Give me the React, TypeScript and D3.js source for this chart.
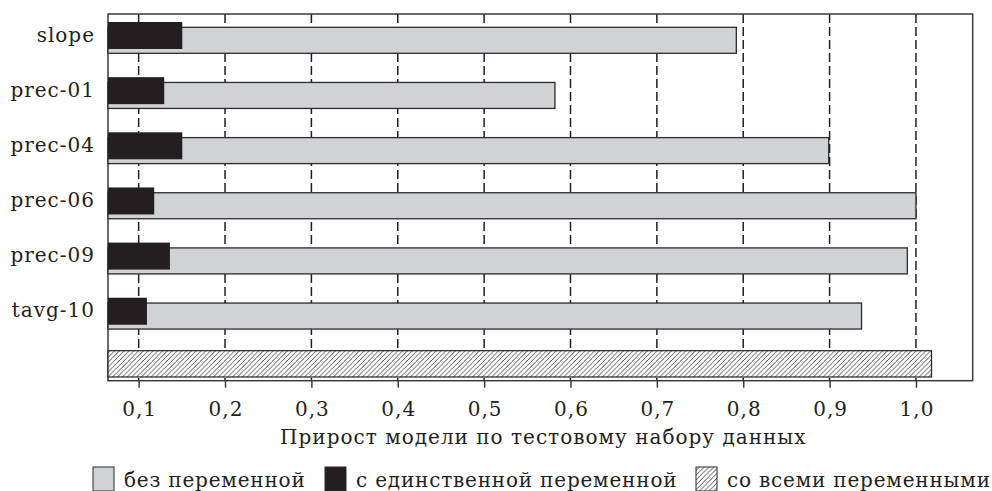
import React, { useEffect, useRef } from 'react'
import * as d3 from 'd3'

// variable names, top to bottom
const variables = ['slope', 'prec-01', 'prec-04', 'prec-06', 'prec-09', 'tavg-10']
// gain without the variable (grey bars)
const withoutVar = [0.792, 0.582, 0.899, 1.0, 0.99, 0.937]
// gain with the single variable only (black bars)
const singleVar = [0.1505, 0.1296, 0.1505, 0.118, 0.1362, 0.1096]
// gain with all variables (hatched bar)
const allVars = 1.018

const xTicks = [0.1, 0.2, 0.3, 0.4, 0.5, 0.6, 0.7, 0.8, 0.9, 1.0]
const xTitle = 'Прирост модели по тестовому набору данных'
const legendLabels = ['без переменной', 'с единственной переменной', 'со всеми переменными']

const FONT = '"DejaVu Serif", serif'

export default function App() {
  const ref = useRef<SVGSVGElement>(null)

  useEffect(() => {
    const svg = d3.select(ref.current)
    svg.selectAll('*').remove()

    const left = 108, right = 972.7, top = 14, bottom = 380.7

    const x = d3.scaleLinear().domain([0.0645, 1.0657]).range([left, right])
    const rows = [...variables, 'all']
    const y = d3.scaleBand().domain(rows).range([10, 10 + rows.length * 55.15]).padding(0)

    // hatch pattern
    const defs = svg.append('defs')
    const pat = defs.append('pattern')
      .attr('id', 'hatch')
      .attr('patternUnits', 'userSpaceOnUse')
      .attr('width', 4.8).attr('height', 4.8)
    pat.append('rect').attr('width', 4.8).attr('height', 4.8).attr('fill', '#fff')
    pat.append('path')
      .attr('d', 'M0,4.8 L4.8,0 M-1.2,1.2 L1.2,-1.2 M3.6,6 L6,3.6')
      .attr('stroke', '#231f20').attr('stroke-width', 0.8)

    // dashed grid
    svg.append('g')
      .selectAll('line')
      .data(xTicks)
      .enter().append('line')
        .attr('x1', d => x(d)).attr('x2', d => x(d))
        .attr('y1', top).attr('y2', bottom)
        .attr('stroke', '#231f20')
        .attr('stroke-width', 1.5)
        .attr('stroke-dasharray', '9,4')

    // frame
    svg.append('rect')
      .attr('x', left).attr('y', top)
      .attr('width', right - left).attr('height', bottom - top)
      .attr('fill', 'none').attr('stroke', '#3a3a3a').attr('stroke-width', 1.5)

    const x0 = x.domain()[0]

    // grey bars
    svg.append('g')
      .selectAll('rect')
      .data(variables)
      .enter().append('rect')
        .attr('x', x(x0))
        .attr('y', d => (y(d) as number) + 17.3)
        .attr('width', (d, i) => x(withoutVar[i]) - x(x0))
        .attr('height', 26)
        .attr('fill', '#d1d2d4')
        .attr('stroke', '#2b2b2b')
        .attr('stroke-width', 1.3)

    // black bars
    svg.append('g')
      .selectAll('rect')
      .data(variables)
      .enter().append('rect')
        .attr('x', x(x0))
        .attr('y', d => (y(d) as number) + 12)
        .attr('width', (d, i) => x(singleVar[i]) - x(x0))
        .attr('height', 27)
        .attr('fill', '#231f20')

    // hatched bar
    svg.append('rect')
      .attr('x', x(x0))
      .attr('y', (y('all') as number) + 9.8)
      .attr('width', x(allVars) - x(x0))
      .attr('height', 26.3)
      .attr('fill', 'url(#hatch)')
      .attr('stroke', '#231f20')
      .attr('stroke-width', 1.2)

    const textStyle = (sel: any) => sel
      .style('font-family', FONT)
      .style('font-size', '20px')
      .style('letter-spacing', '1px')
      .attr('fill', '#231f20')

    // row labels
    svg.append('g')
      .selectAll('text')
      .data(variables)
      .enter().append('text')
        .attr('x', 95)
        .attr('y', d => (y(d) as number) + 31.7)
        .attr('text-anchor', 'end')
        .call(textStyle)
        .text(d => d)

    // bottom axis
    const axis = svg.append('g')
      .attr('transform', 'translate(0,' + bottom + ')')
      .call(d3.axisBottom(x).tickValues(xTicks).tickSize(7).tickPadding(14)
        .tickFormat(d => d3.format('.1f')(d as number).replace('.', ',')))
    axis.select('.domain').remove()
    axis.selectAll('line').attr('stroke', '#3a3a3a').attr('stroke-width', 1.5)
    axis.selectAll('text').attr('dx', '0.5').call(textStyle)

    svg.append('text')
      .attr('x', (left + right) / 2 + 3)
      .attr('y', 444)
      .attr('text-anchor', 'middle')
      .call(textStyle)
      .text(xTitle)

    // handmade legend
    const legX = [93, 325, 696]
    const fills = ['#d1d2d4', '#231f20', 'url(#hatch)']
    const leg = svg.append('g')
    legendLabels.forEach((lab, i) => {
      leg.append('rect')
        .attr('x', legX[i]).attr('y', 467)
        .attr('width', 21).attr('height', 24)
        .attr('fill', fills[i])
        .attr('stroke', '#2b2b2b').attr('stroke-width', 1)
      leg.append('text')
        .attr('x', legX[i] + 31).attr('y', 487)
        .call(textStyle)
        .style('letter-spacing', '0.8px')
        .text(lab)
    })
  }, [])

  return (
    <svg ref={ref} width={992} height={491}
      style={{ position: 'absolute', left: 0, top: 0, display: 'block', background: '#fff' }} />
  )
}
